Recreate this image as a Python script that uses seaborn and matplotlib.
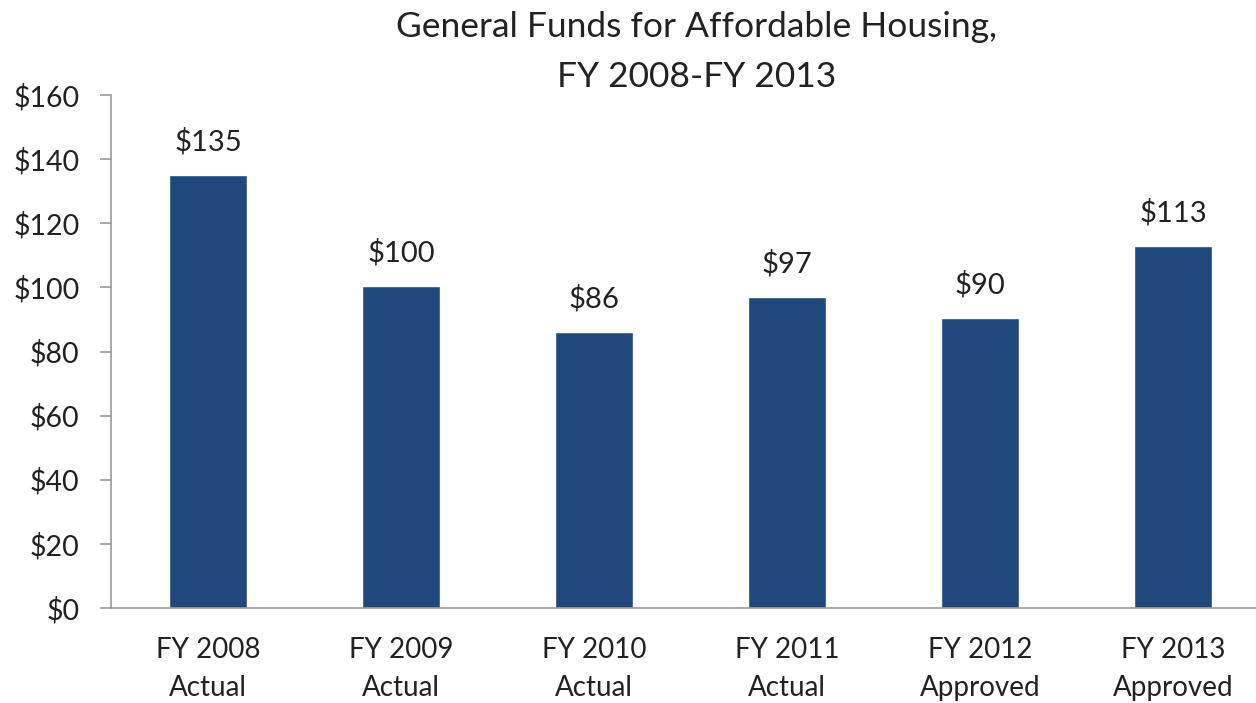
import matplotlib
matplotlib.use("Agg")
import matplotlib.pyplot as plt
import seaborn as sns
import pandas as pd
from matplotlib.ticker import FixedLocator

categories = ["FY 2008\nActual", "FY 2009\nActual", "FY 2010\nActual",
              "FY 2011\nActual", "FY 2012\nApproved", "FY 2013\nApproved"]
values = [135, 100.4, 86, 97, 90.4, 113]
yticks = [0, 20, 40, 60, 80, 100, 120, 140, 160]

sns.set_theme(style="white")
plt.rcParams['font.family'] = ['Lato', 'DejaVu Sans']

df = pd.DataFrame({"cat": categories, "val": values})

fig = plt.figure(figsize=(12.56, 7.03), dpi=100)
ax = fig.add_axes([111.5 / 1256, 1 - 608 / 703, 1158 / 1256, 513 / 703])

sns.barplot(data=df, x="cat", y="val", color="#1F497D", saturation=1,
            width=0.4, ax=ax)

ax.set_ylim(0, 160)
ax.set_xlim(-0.5, len(categories) - 0.5)
ax.set_yticks(yticks)
ax.set_yticklabels([f"${v}" for v in yticks], fontsize=20.5, color="#222222")
ax.set_xticks(range(len(categories)))
ax.set_xticklabels(categories, fontsize=20, color="#222222", linespacing=1.56)
ax.xaxis.set_minor_locator(FixedLocator([i - 0.5 for i in range(len(categories) + 1)]))
ax.tick_params(axis="x", which="major", length=0, pad=21)
ax.tick_params(axis="x", which="minor", length=8, color="#999999", width=1.2, direction="out")
ax.tick_params(axis="y", length=8, color="#999999", width=1.2, direction="out", pad=15, left=True)

for s in ["top", "right"]:
    ax.spines[s].set_visible(False)
for s in ["left", "bottom"]:
    ax.spines[s].set_color("#999999")
    ax.spines[s].set_linewidth(1.2)

ax.set_xlabel("")
ax.set_ylabel("")

for i, v in enumerate(values):
    ax.annotate(f"${v:.0f}", xy=(i, v), xytext=(0, 14), textcoords="offset points",
                ha="center", va="bottom", fontsize=21, color="#222222")

fig.text(697 / 1256, 1 - 11 / 703, "General Funds for Affordable Housing,\nFY 2008-FY 2013",
         ha="center", va="top", fontsize=25.5, color="#222222", linespacing=1.68)

fig.savefig("out.png", dpi=100)
